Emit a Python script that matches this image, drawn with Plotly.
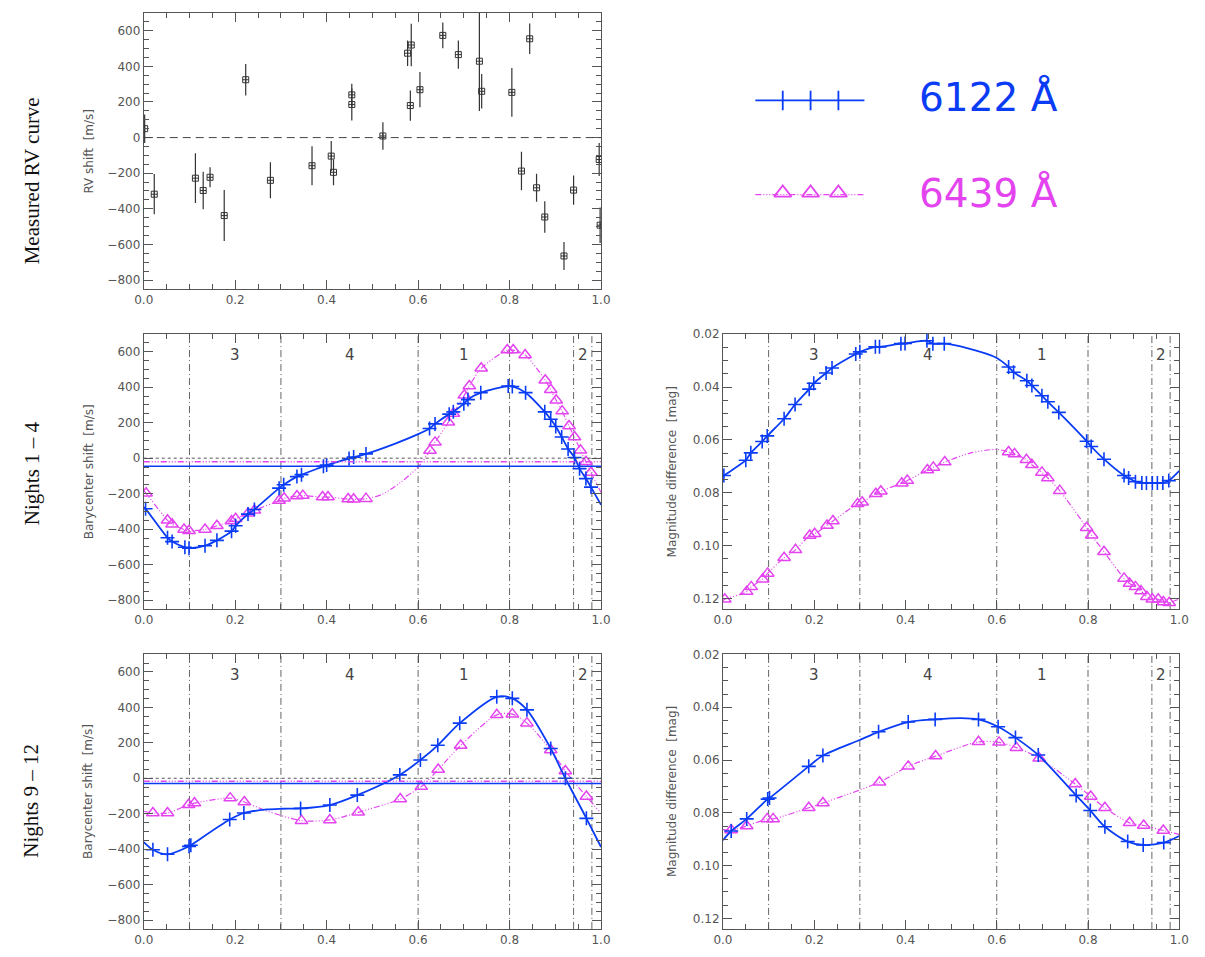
import plotly.graph_objects as go

# ---------------- data ----------------
# Panel 1: measured RV curve
RV_PHASE = [0.002, 0.023, 0.113, 0.130, 0.145, 0.176, 0.223, 0.277, 0.368, 0.410, 0.415,
            0.455, 0.455, 0.523, 0.577, 0.585, 0.583, 0.604, 0.654, 0.688, 0.734, 0.739,
            0.805, 0.826, 0.844, 0.859, 0.877, 0.919, 0.940, 0.996, 0.998]
RV_SHIFT = [50, -318, -228, -297, -223, -438, 325, -240, -158, -104, -195,
            240, 186, 9, 474, 520, 180, 269, 574, 466, 429, 260,
            254, -188, 555, -282, -446, -665, -295, -123, -492]
RV_ERR = [80, 113, 140, 105, 56, 143, 88, 101, 109, 85, 72,
          63, 90, 77, 72, 120, 85, 99, 72, 79, 280, 97,
          137, 108, 86, 79, 89, 78, 82, 93, 100]

# Nights 1-4, barycenter shift
N14_PH_B = [0.004, 0.052, 0.062, 0.090, 0.099, 0.134, 0.160, 0.192, 0.201, 0.228, 0.242, 0.296,
            0.306, 0.335, 0.345, 0.393, 0.400, 0.449, 0.459, 0.486, 0.625, 0.637, 0.668, 0.677,
            0.700, 0.709, 0.737, 0.797, 0.806, 0.835, 0.877, 0.890, 0.901, 0.914, 0.928, 0.942,
            0.953, 0.967, 0.978]
N14_RV_B = [-285, -448, -470, -502, -507, -493, -463, -411, -381, -315, -289, -169,
            -150, -104, -93, -46, -39, -2, 6, 24, 167, 193, 248, 261,
            307, 330, 369, 406, 404, 369, 261, 219, 178, 119, 52, 4,
            -59, -115, -163]
N14_CURVE_EXTRA_PH_B = [0.0, 0.55, 0.6, 1.0]
N14_CURVE_EXTRA_RV_B = [-276, 82, 135, -263]

N14_PH_P = [0.005, 0.052, 0.062, 0.088, 0.099, 0.134, 0.160, 0.192, 0.201, 0.228, 0.242, 0.296,
            0.307, 0.335, 0.348, 0.391, 0.403, 0.447, 0.459, 0.486, 0.626, 0.637, 0.666, 0.677,
            0.701, 0.712, 0.738, 0.795, 0.808, 0.834, 0.878, 0.890, 0.902, 0.915, 0.930, 0.942,
            0.955, 0.967, 0.978]
N14_RV_P = [-198, -350, -372, -402, -409, -402, -381, -354, -341, -311, -294, -239,
            -226, -213, -211, -219, -219, -230, -231, -228, 43, 89, 202, 252,
            354, 406, 506, 609, 609, 581, 439, 385, 326, 265, 181, 119,
            44, -20, -81]
N14_CURVE_EXTRA_PH_P = [0.0, 0.52, 0.56, 0.6, 1.0]
N14_CURVE_EXTRA_RV_P = [-183, -205, -140, -50, -193]

# Nights 1-4, magnitude difference
M14_PH_B = [0.002, 0.050, 0.061, 0.086, 0.097, 0.134, 0.158, 0.189, 0.199, 0.226, 0.239, 0.291,
            0.300, 0.334, 0.343, 0.390, 0.399, 0.447, 0.460, 0.485, 0.626, 0.637, 0.666, 0.677,
            0.699, 0.712, 0.736, 0.797, 0.807, 0.835, 0.879, 0.889, 0.904, 0.918, 0.928, 0.941,
            0.952, 0.964, 0.977]
M14_MAG_B = [0.0735, 0.0677, 0.0649, 0.0606, 0.0585, 0.0520, 0.0466, 0.0408, 0.0386, 0.0347,
             0.0328, 0.0275, 0.0267, 0.0248, 0.0248, 0.0236, 0.0235, 0.0225, 0.0236, 0.0236,
             0.0324, 0.0344, 0.0376, 0.0394, 0.0433, 0.0456, 0.0496, 0.0605, 0.0625, 0.0673,
             0.0735, 0.0744, 0.0758, 0.0763, 0.0763, 0.0763, 0.0763, 0.0763, 0.0754]
M14_CURVE_EXTRA_PH_B = [0.0, 0.535, 0.6, 1.0]
M14_CURVE_EXTRA_MAG_B = [0.0738, 0.0253, 0.0290, 0.0717]

M14_PH_P = [0.004, 0.052, 0.062, 0.087, 0.098, 0.134, 0.159, 0.190, 0.201, 0.228, 0.241, 0.295,
            0.305, 0.335, 0.346, 0.392, 0.404, 0.448, 0.461, 0.486, 0.626, 0.639, 0.665, 0.677,
            0.699, 0.712, 0.738, 0.797, 0.808, 0.835, 0.879, 0.891, 0.904, 0.916, 0.929, 0.941,
            0.954, 0.965, 0.978]
M14_MAG_P = [0.1203, 0.1174, 0.1156, 0.1127, 0.1105, 0.1046, 0.1016, 0.0962, 0.0955, 0.0924,
             0.0907, 0.0842, 0.0836, 0.0804, 0.0794, 0.0764, 0.0754, 0.0714, 0.0704, 0.0684,
             0.0646, 0.0653, 0.0675, 0.0694, 0.0723, 0.0744, 0.0792, 0.0932, 0.0961, 0.1023,
             0.1124, 0.1143, 0.1156, 0.1172, 0.1193, 0.1203, 0.1203, 0.1213, 0.1216]
M14_CURVE_EXTRA_PH_P = [0.0, 0.542, 0.6, 1.0]
M14_CURVE_EXTRA_MAG_P = [0.1208, 0.0650, 0.0636, 0.1201]

# Nights 9-12, barycenter shift
N912_PH_B = [0.020, 0.052, 0.099, 0.103, 0.188, 0.219, 0.343, 0.407, 0.467, 0.560, 0.605,
             0.643, 0.691, 0.772, 0.806, 0.838, 0.890, 0.922, 0.968]
N912_RV_B = [-403, -429, -384, -378, -233, -196, -170, -151, -95, 19, 103,
             186, 311, 460, 451, 386, 168, 0, -226]
N912_CURVE_EXTRA_PH_B = [0.0, 0.27, 0.30, 1.0]
N912_CURVE_EXTRA_RV_B = [-360, -176, -172, -388]

N912_PH_P = [0.020, 0.052, 0.098, 0.111, 0.189, 0.220, 0.345, 0.407, 0.469, 0.561, 0.607,
             0.644, 0.693, 0.772, 0.806, 0.838, 0.890, 0.922, 0.968]
N912_RV_P = [-196, -196, -149, -140, -112, -134, -239, -235, -192, -117, -47,
             50, 185, 358, 362, 311, 160, 41, -103]
N912_CURVE_EXTRA_PH_P = [0.0, 0.27, 1.0]
N912_CURVE_EXTRA_RV_P = [-186, -185, -198]

# Nights 9-12, magnitude difference
M912_PH_B = [0.018, 0.052, 0.098, 0.102, 0.188, 0.219, 0.341, 0.406, 0.465, 0.560, 0.603,
             0.641, 0.691, 0.774, 0.805, 0.837, 0.887, 0.921, 0.966]
M912_MAG_B = [0.0869, 0.0823, 0.0748, 0.0744, 0.0624, 0.0583, 0.0493, 0.0456, 0.0446, 0.0446,
              0.0474, 0.0515, 0.0581, 0.0734, 0.0791, 0.0853, 0.0909, 0.0922, 0.0913]
M912_CURVE_EXTRA_PH_B = [0.0, 0.298, 0.521, 1.0]
M912_CURVE_EXTRA_MAG_B = [0.0904, 0.0525, 0.0441, 0.0888]

M912_PH_P = [0.018, 0.052, 0.097, 0.110, 0.188, 0.219, 0.343, 0.406, 0.466, 0.560, 0.605,
             0.643, 0.693, 0.772, 0.806, 0.837, 0.891, 0.922, 0.965]
M912_MAG_P = [0.0865, 0.0850, 0.0823, 0.0823, 0.0781, 0.0763, 0.0684, 0.0624, 0.0585, 0.0531,
              0.0533, 0.0553, 0.0593, 0.0691, 0.0738, 0.0781, 0.0838, 0.0848, 0.0867]
M912_CURVE_EXTRA_PH_P = [0.0, 1.0]
M912_CURVE_EXTRA_MAG_P = [0.0864, 0.0882]

# mean levels (horizontal lines) in barycenter panels
N14_MEAN_B, N14_MEAN_P = -45, -20
N912_MEAN_B, N912_MEAN_P = -30, -17

# night boundaries and labels
BOUNDARIES = [0.1, 0.3, 0.6, 0.8, 0.94, 0.98]
REGION_X = [0.2, 0.45, 0.7, 0.96]
REGION_LABELS = ["3", "4", "1", "2"]

X_TICKS = [0.0, 0.2, 0.4, 0.6, 0.8, 1.0]
RV_TICKS = [-800, -600, -400, -200, 0, 200, 400, 600]
MAG_TICKS = [0.02, 0.04, 0.06, 0.08, 0.10, 0.12]

SERIES_NAMES = ["6122 Å", "6439 Å"]
ROW_LABELS = ["Measured RV curve", "Nights 1 – 4", "Nights 9 – 12"]

# legend glyph positions (decoration)
LEG_LINE_X = [0.071, 0.131, 0.192, 0.253, 0.310]

# ---------------- styles ----------------
BLUE = "#0a3cf5"
PINK = "#e344f0"
AX = "#555555"
TXT = "#555555"
W, H = 1205, 957

XL = [136 / W, 601 / W]
XR = [725 / W, 1189 / W]
R1 = [1 - 284 / H, 1 - 6 / H]
R2 = [1 - 606.5 / H, 1 - 329.3 / H]
R3 = [1 - 928.7 / H, 1 - 652 / H]

PINK_DASH = "6px,2px,1px,2px,1px,2px,1px,2px"


def merged(px, py, ex, ey):
    pts = sorted(zip(list(px) + list(ex), list(py) + list(ey)))
    return [p[0] for p in pts], [p[1] for p in pts]


def xaxis(domain, anchor):
    return dict(domain=domain, anchor=anchor, range=[0, 1], tickvals=X_TICKS,
                ticktext=[f"{v:.1f}" for v in X_TICKS],
                showline=True, linecolor=AX, linewidth=1, mirror="allticks",
                ticks="inside", ticklen=9, tickcolor=AX, tickwidth=1,
                showgrid=False, zeroline=False,
                tickfont=dict(family="DejaVu Sans", size=12, color=TXT),
                minor=dict(ticks="inside", ticklen=5, tickcolor=AX, dtick=0.05, tick0=0,
                           showgrid=False))


def yaxis_rv(domain, anchor):
    return dict(domain=domain, anchor=anchor, range=[-850, 700], tickvals=RV_TICKS,
                ticktext=[str(v).replace("-", "\u2212") for v in RV_TICKS],
                showline=True, linecolor=AX, linewidth=1, mirror="allticks",
                ticks="inside", ticklen=9, tickcolor=AX, tickwidth=1,
                showgrid=False, zeroline=False,
                tickfont=dict(family="DejaVu Sans", size=12, color=TXT),
                minor=dict(ticks="inside", ticklen=5, tickcolor=AX, dtick=50, tick0=0,
                           showgrid=False))


def yaxis_mag(domain, anchor):
    return dict(domain=domain, anchor=anchor, range=[0.124, 0.0199], tickvals=MAG_TICKS,
                ticktext=[f"{v:.2f}" for v in MAG_TICKS],
                showline=True, linecolor=AX, linewidth=1, mirror="allticks",
                ticks="inside", ticklen=9, tickcolor=AX, tickwidth=1,
                showgrid=False, zeroline=False,
                tickfont=dict(family="DejaVu Sans", size=12, color=TXT),
                minor=dict(ticks="inside", ticklen=5, tickcolor=AX, dtick=0.005, tick0=0,
                           showgrid=False))


fig = go.Figure()

# Panel 1
fig.add_trace(go.Scatter(
    x=RV_PHASE, y=RV_SHIFT, mode="markers", xaxis="x", yaxis="y",
    marker=dict(symbol="square-cross-open", size=6, color="#333333", line=dict(width=1)),
    error_y=dict(type="data", array=RV_ERR, visible=True, width=0, thickness=1.2,
                 color="#333333"),
    showlegend=False, hoverinfo="skip"))


def add_pair(xa, ya, phb, vb, exb, eyb, php, vp, exp_, eyp):
    cx, cy = merged(php, vp, exp_, eyp)
    fig.add_trace(go.Scatter(x=cx, y=cy, mode="lines", xaxis=xa, yaxis=ya,
                             line=dict(color=PINK, width=1.2, dash=PINK_DASH, shape="spline",
                                       smoothing=0.8),
                             showlegend=False, hoverinfo="skip"))
    fig.add_trace(go.Scatter(x=php, y=vp, mode="markers", xaxis=xa, yaxis=ya,
                             marker=dict(symbol="triangle-up-open", size=11, color=PINK,
                                         line=dict(width=1.5, color=PINK)),
                             showlegend=False, hoverinfo="skip"))
    cx, cy = merged(phb, vb, exb, eyb)
    fig.add_trace(go.Scatter(x=cx, y=cy, mode="lines", xaxis=xa, yaxis=ya,
                             line=dict(color=BLUE, width=1.8, shape="spline", smoothing=0.8),
                             showlegend=False, hoverinfo="skip"))
    fig.add_trace(go.Scatter(x=phb, y=vb, mode="markers", xaxis=xa, yaxis=ya,
                             marker=dict(symbol="cross-thin-open", size=10, color=BLUE,
                                         line=dict(width=1.6, color=BLUE)),
                             showlegend=False, hoverinfo="skip"))


add_pair("x2", "y2", N14_PH_B, N14_RV_B, N14_CURVE_EXTRA_PH_B, N14_CURVE_EXTRA_RV_B,
         N14_PH_P, N14_RV_P, N14_CURVE_EXTRA_PH_P, N14_CURVE_EXTRA_RV_P)
add_pair("x3", "y3", M14_PH_B, M14_MAG_B, M14_CURVE_EXTRA_PH_B, M14_CURVE_EXTRA_MAG_B,
         M14_PH_P, M14_MAG_P, M14_CURVE_EXTRA_PH_P, M14_CURVE_EXTRA_MAG_P)
add_pair("x4", "y4", N912_PH_B, N912_RV_B, N912_CURVE_EXTRA_PH_B, N912_CURVE_EXTRA_RV_B,
         N912_PH_P, N912_RV_P, N912_CURVE_EXTRA_PH_P, N912_CURVE_EXTRA_RV_P)
add_pair("x5", "y5", M912_PH_B, M912_MAG_B, M912_CURVE_EXTRA_PH_B, M912_CURVE_EXTRA_MAG_B,
         M912_PH_P, M912_MAG_P, M912_CURVE_EXTRA_PH_P, M912_CURVE_EXTRA_MAG_P)

# Legend glyphs on a hidden axis
fig.add_trace(go.Scatter(x=LEG_LINE_X, y=[0.683] * len(LEG_LINE_X), mode="lines",
                         xaxis="x6", yaxis="y6", line=dict(color=BLUE, width=1.8),
                         showlegend=False, hoverinfo="skip"))
fig.add_trace(go.Scatter(x=LEG_LINE_X[1:4], y=[0.683] * 3, mode="markers",
                         xaxis="x6", yaxis="y6",
                         marker=dict(symbol="line-ns-open", size=14, color=BLUE,
                                     line=dict(width=1.8, color=BLUE)),
                         showlegend=False, hoverinfo="skip"))
fig.add_trace(go.Scatter(x=LEG_LINE_X, y=[0.342] * len(LEG_LINE_X), mode="lines",
                         xaxis="x6", yaxis="y6",
                         line=dict(color=PINK, width=1.2, dash=PINK_DASH),
                         showlegend=False, hoverinfo="skip"))
fig.add_trace(go.Scatter(x=LEG_LINE_X[1:4], y=[0.348] * 3, mode="markers",
                         xaxis="x6", yaxis="y6",
                         marker=dict(symbol="triangle-up-open", size=15, color=PINK,
                                     line=dict(width=1.8, color=PINK)),
                         showlegend=False, hoverinfo="skip"))

shapes = []
# zero line panel 1
shapes.append(dict(type="line", xref="x domain", yref="y", x0=0, x1=1, y0=0, y1=0,
                   line=dict(color="#444444", width=1, dash="8px,5px")))
for xa, ya, mb, mp in [("x2", "y2", N14_MEAN_B, N14_MEAN_P), ("x4", "y4", N912_MEAN_B, N912_MEAN_P)]:
    shapes.append(dict(type="line", xref=f"{xa} domain", yref=ya, x0=0, x1=1, y0=0, y1=0,
                       line=dict(color="#555555", width=1, dash="dot")))
    shapes.append(dict(type="line", xref=f"{xa} domain", yref=ya, x0=0, x1=1, y0=mp, y1=mp,
                       line=dict(color=PINK, width=1.5, dash=PINK_DASH)))
    shapes.append(dict(type="line", xref=f"{xa} domain", yref=ya, x0=0, x1=1, y0=mb, y1=mb,
                       line=dict(color=BLUE, width=1.5)))
for xa, ya in [("x2", "y2"), ("x3", "y3"), ("x4", "y4"), ("x5", "y5")]:
    for b in BOUNDARIES:
        shapes.append(dict(type="line", xref=xa, yref=f"{ya} domain", x0=b, x1=b, y0=0, y1=1,
                           line=dict(color="#666666", width=1, dash="7px,3px,1px,3px"),
                           layer="below"))

annotations = []
for xa, ya in [("x2", "y2"), ("x3", "y3"), ("x4", "y4"), ("x5", "y5")]:
    for rx, rl in zip(REGION_X, REGION_LABELS):
        annotations.append(dict(xref=xa, yref=f"{ya} domain", x=rx, y=0.924, text=rl,
                                showarrow=False, xanchor="center", yanchor="middle",
                                font=dict(family="DejaVu Sans", size=15, color="#444444")))

# y axis titles
for txt, xp, yc in [("RV shift  [m/s]", 80, 145), ("Barycenter shift  [m/s]", 80, 468),
                    ("Magnitude difference  [mag]", 673, 468),
                    ("Barycenter shift  [m/s]", 80, 790),
                    ("Magnitude difference  [mag]", 673, 790)]:
    annotations.append(dict(xref="paper", yref="paper", x=xp / W, y=1 - yc / H, text=txt,
                            textangle=-90, showarrow=False, xanchor="center", yanchor="middle",
                            font=dict(family="DejaVu Sans", size=12, color=TXT)))

# row labels
for txt, yc in zip(ROW_LABELS, [175, 470, 800]):
    annotations.append(dict(xref="paper", yref="paper", x=22 / W, y=1 - yc / H, text=txt,
                            textangle=-90, showarrow=False, xanchor="center", yanchor="middle",
                            font=dict(family="Liberation Serif", size=21, color="#111111")))

# legend text
for txt, col, yv in [(SERIES_NAMES[0], BLUE, 0.694), (SERIES_NAMES[1], PINK, 0.349)]:
    annotations.append(dict(xref="x6", yref="y6", x=0.4246, y=yv, text=txt, showarrow=False,
                            xanchor="left", yanchor="middle",
                            font=dict(family="DejaVu Sans", size=39, color=col)))

fig.update_layout(
    width=W, height=H, margin=dict(l=0, r=0, t=0, b=0),
    paper_bgcolor="white", plot_bgcolor="white", showlegend=False,
    xaxis=xaxis(XL, "y"), yaxis=yaxis_rv(R1, "x"),
    xaxis2=xaxis(XL, "y2"), yaxis2=yaxis_rv(R2, "x2"),
    xaxis3=xaxis(XR, "y3"), yaxis3=yaxis_mag(R2, "x3"),
    xaxis4=xaxis(XL, "y4"), yaxis4=yaxis_rv(R3, "x4"),
    xaxis5=xaxis(XR, "y5"), yaxis5=yaxis_mag(R3, "x5"),
    xaxis6=dict(domain=XR, anchor="y6", range=[0, 1], visible=False),
    yaxis6=dict(domain=R1, anchor="x6", range=[0, 1], visible=False),
    shapes=shapes, annotations=annotations,
)

fig.write_html("out.html", config={"displayModeBar": False},
               post_script="document.body.style.margin='0';document.body.style.overflow='hidden';")
